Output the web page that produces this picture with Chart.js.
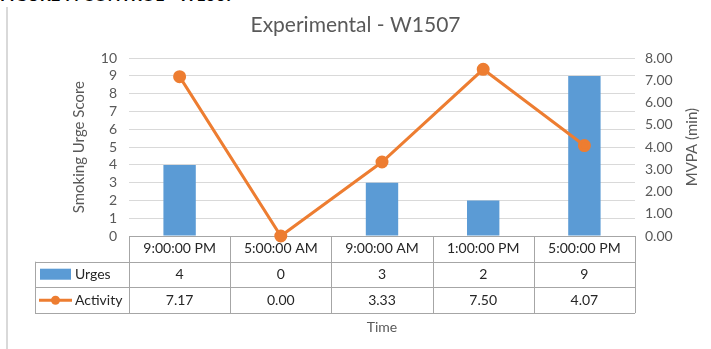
<!DOCTYPE html>
<html>
<head>
<meta charset="utf-8">
<script src="https://cdn.jsdelivr.net/npm/chart.js@4/dist/chart.umd.min.js"></script>
<style>
body { margin: 0; background: #fff; overflow: hidden; }
#wrap { position: relative; width: 711px; height: 349px; overflow: hidden; }
#fig { position: absolute; left: 0; top: -16px; font: bold 17px Lato, sans-serif; color: #000; white-space: nowrap; }
#edge { position: absolute; left: 6px; top: 7px; width: 2px; height: 342px; background: #d9d9d9; }
canvas { position: absolute; left: 0; top: 0; }
</style>
</head>
<body>
<div id="wrap">
  <div id="fig">FIGURE 7: CONTROL - W1507</div>
  <div id="edge"></div>
  <canvas id="chart" width="711" height="349"></canvas>
</div>
<script>
// data
const times = ["9:00:00 PM", "5:00:00 AM", "9:00:00 AM", "1:00:00 PM", "5:00:00 PM"];
const urges = [4, 0, 3, 2, 9];
const activity = [7.17, 0.00, 3.33, 7.50, 4.07];
const seriesNames = ["Urges", "Activity"];

const BLUE = "#5b9bd5";
const ORANGE = "#ed7d31";
const FONT = "Lato, 'Open Sans', sans-serif";

// draws the data table under the plot, lined up with the x scale
const tablePlugin = {
  id: "dataTable",
  beforeDatasetsDraw(chart) {
    const ctx = chart.ctx;
    const x = chart.scales.x;
    const area = chart.chartArea;
    const rowH = 25.7;
    const top = area.bottom;
    const legLeft = 35;
    const colW = (area.right - area.left) / times.length;

    ctx.save();
    ctx.strokeStyle = "#a6a6a6";
    ctx.lineWidth = 1;
    ctx.beginPath();
    ctx.moveTo(area.left, top + 0.5);
    ctx.lineTo(area.right, top + 0.5);
    for (let r = 1; r <= 3; r++) {
      const y = Math.round(top + r * rowH) + 0.5;
      ctx.moveTo(legLeft, y);
      ctx.lineTo(area.right, y);
    }
    for (let i = 0; i <= times.length; i++) {
      const xx = Math.round(area.left + i * colW) + 0.5;
      ctx.moveTo(xx, top);
      ctx.lineTo(xx, top + 3 * rowH);
    }
    ctx.moveTo(legLeft + 0.5, top + rowH);
    ctx.lineTo(legLeft + 0.5, top + 3 * rowH);
    ctx.stroke();

    ctx.font = "14px " + FONT;
    ctx.fillStyle = "#262626";
    ctx.textAlign = "center";
    ctx.textBaseline = "middle";
    times.forEach((t, i) => {
      const cx = x.getPixelForValue(i);
      ctx.fillText(t, cx, top + rowH * 0.5);
      ctx.fillText(String(urges[i]), cx, top + rowH * 1.5);
      ctx.fillText(activity[i].toFixed(2), cx, top + rowH * 2.5);
    });

    // legend keys
    ctx.fillStyle = BLUE;
    ctx.fillRect(40, top + rowH + 7, 31, 11);
    ctx.strokeStyle = ORANGE;
    ctx.lineWidth = 3;
    ctx.beginPath();
    ctx.moveTo(39, top + rowH * 2.5);
    ctx.lineTo(72, top + rowH * 2.5);
    ctx.stroke();
    ctx.fillStyle = ORANGE;
    ctx.beginPath();
    ctx.arc(55.5, top + rowH * 2.5, 4.5, 0, Math.PI * 2);
    ctx.fill();

    ctx.fillStyle = "#262626";
    ctx.textAlign = "left";
    ctx.fillText(seriesNames[0], 75, top + rowH * 1.5);
    ctx.fillText(seriesNames[1], 75, top + rowH * 2.5);

    // x axis title
    ctx.fillStyle = "#595959";
    ctx.textAlign = "center";
    ctx.fillText("Time", (area.left + area.right) / 2, top + 3 * rowH + 14);

    // right axis title, reads bottom to top like the left one
    ctx.save();
    ctx.font = "15px " + FONT;
    ctx.translate(692, (area.top + area.bottom) / 2);
    ctx.rotate(-Math.PI / 2);
    ctx.fillText("MVPA (min)", 0, 0);
    ctx.restore();
    ctx.restore();
  }
};

new Chart(document.getElementById("chart"), {
  type: "bar",
  data: {
    labels: times,
    datasets: [
      {
        type: "line",
        label: seriesNames[1],
        data: activity,
        yAxisID: "y1",
        borderColor: ORANGE,
        backgroundColor: ORANGE,
        borderWidth: 3,
        pointRadius: 5,
        pointHoverRadius: 5,
        tension: 0,
        clip: false,
        order: 0
      },
      {
        label: seriesNames[0],
        data: urges,
        yAxisID: "y",
        backgroundColor: BLUE,
        barPercentage: 0.32,
        categoryPercentage: 1,
        order: 1
      }
    ]
  },
  options: {
    responsive: false,
    animation: false,
    layout: { padding: { left: 0, right: 0, top: 0, bottom: 113 } },
    plugins: {
      legend: { display: false },
      tooltip: { enabled: false },
      title: {
        display: true,
        text: "Experimental - W1507",
        color: "#595959",
        font: { family: FONT, size: 21, weight: "normal" },
        padding: { top: 13, bottom: 20 }
      }
    },
    scales: {
      x: { display: false },
      y: {
        position: "left",
        min: 0, max: 10,
        ticks: { stepSize: 1, autoSkip: false, color: "#595959", font: { family: FONT, size: 14 }, padding: 12 },
        grid: { color: "#d9d9d9", drawTicks: false },
        border: { display: false },
        title: { display: true, text: "Smoking Urge Score", color: "#595959", font: { family: FONT, size: 15 }, padding: { top: 70 } },
        afterFit(scale) { scale.width = 129; }
      },
      y1: {
        position: "right",
        min: 0, max: 8,
        ticks: { stepSize: 1, autoSkip: false, color: "#595959", font: { family: FONT, size: 14 }, padding: 10, callback: v => v.toFixed(2) },
        grid: { drawOnChartArea: false, drawTicks: false },
        border: { display: false },
        afterFit(scale) { scale.width = 76; }
      }
    }
  },
  plugins: [tablePlugin]
});
</script>
</body>
</html>
